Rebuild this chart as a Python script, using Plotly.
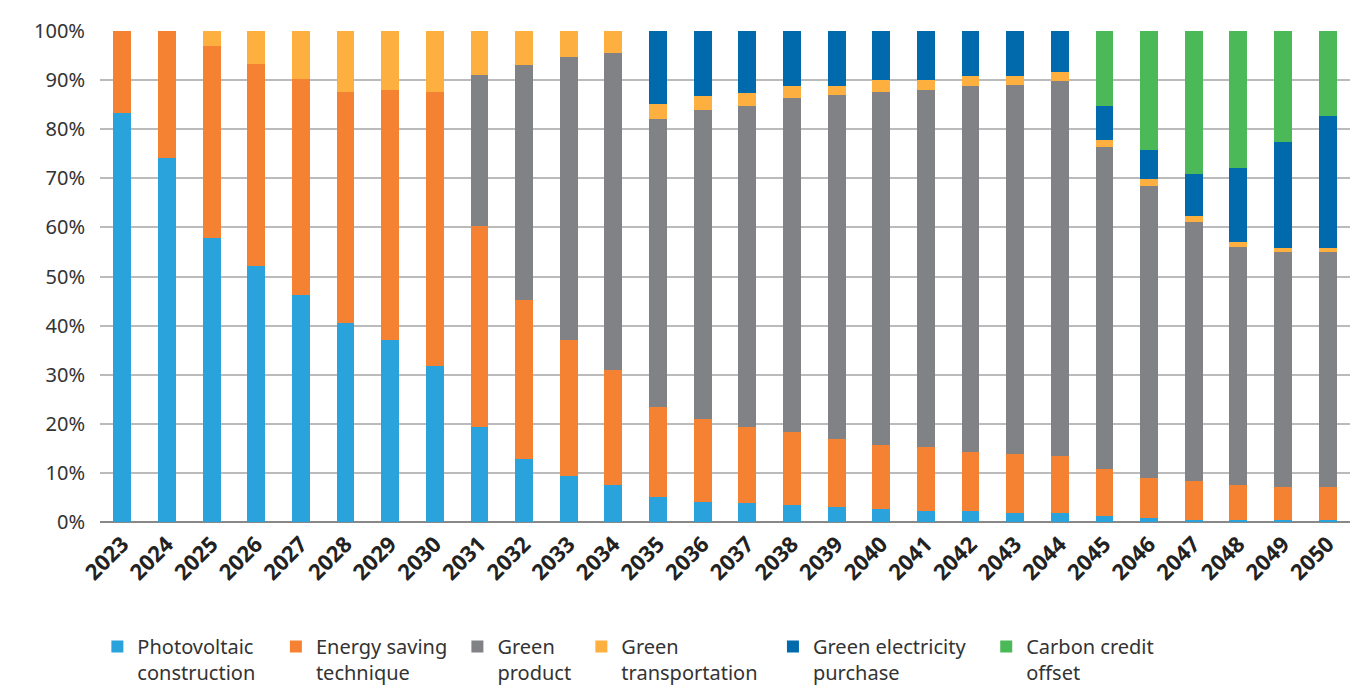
import plotly.graph_objects as go

years = [str(y) for y in range(2023, 2051)]

photovoltaic = [83.4, 74.2, 57.8, 52.1, 46.2, 40.5, 37.1, 31.7, 19.4, 12.9, 9.4, 7.5, 5.0, 4.1,
                3.8, 3.4, 3.0, 2.7, 2.3, 2.3, 1.9, 1.9, 1.3, 0.9, 0.5, 0.5, 0.5, 0.5]
energy_saving = [16.6, 25.8, 39.1, 41.2, 44.1, 47.0, 50.9, 55.8, 40.8, 32.3, 27.7, 23.5, 18.4, 16.9,
                 15.6, 14.9, 14.0, 13.0, 12.9, 12.0, 12.0, 11.6, 9.4, 8.1, 7.8, 7.0, 6.6, 6.6]
green_product = [0, 0, 0, 0, 0, 0, 0, 0, 30.9, 47.9, 57.7, 64.6, 58.6, 63.0,
                 65.4, 68.1, 69.9, 71.9, 72.8, 74.5, 75.1, 76.4, 65.7, 59.5, 52.9, 48.5, 47.8, 47.8]
green_transport = [0, 0, 3.1, 6.7, 9.7, 12.5, 12.0, 12.5, 8.9, 6.9, 5.2, 4.4, 3.2, 2.8,
                   2.5, 2.5, 2.0, 2.5, 2.1, 2.0, 1.8, 1.8, 1.3, 1.3, 1.2, 1.0, 0.9, 0.9]
green_electricity = [0, 0, 0, 0, 0, 0, 0, 0, 0, 0, 0, 0, 14.8, 13.2,
                     12.7, 11.1, 11.1, 9.9, 9.9, 9.2, 9.2, 8.3, 7.1, 5.9, 8.4, 15.0, 21.5, 26.9]
carbon_offset = [0, 0, 0, 0, 0, 0, 0, 0, 0, 0, 0, 0, 0, 0,
                 0, 0, 0, 0, 0, 0, 0, 0, 15.2, 24.3, 29.2, 28.0, 22.7, 17.3]

NB = "\u00a0"
series = [
    ("Photovoltaic<br>construction" + NB * 3, photovoltaic, "#2AA3DD"),
    ("Energy saving" + NB + "<br>technique", energy_saving, "#F58233"),
    ("Green<br>product" + NB, green_product, "#818285"),
    ("Green<br>transportation" + NB * 2, green_transport, "#FDB040"),
    ("Green electricity" + NB * 3 + "<br>purchase", green_electricity, "#006AAD"),
    ("Carbon credit<br>offset", carbon_offset, "#4BB958"),
]

fig = go.Figure()
for name, vals, color in series:
    fig.add_trace(go.Bar(x=years, y=vals, name=name, marker=dict(color=color, line=dict(width=0))))

fig.update_layout(
    barmode="stack",
    bargap=0.6,
    width=1354, height=678,
    margin=dict(l=92, r=12, t=23, b=164),
    paper_bgcolor="white", plot_bgcolor="white",
    font=dict(family="Noto Sans", color="#333333"),
    xaxis=dict(
        type="category", tickangle=-45, showgrid=False,
        tickfont=dict(size=22, color="#222222", family="Noto Sans", weight=700),
        showline=False, ticks="", automargin=False, ticklabelstandoff=4,
    ),
    yaxis=dict(
        range=[0, 100], dtick=10, ticksuffix="%",
        showgrid=True, gridcolor="#BBBBBB", gridwidth=1.5,
        zeroline=True, zerolinecolor="#888888", zerolinewidth=2,
        tickfont=dict(size=20, color="#333333"),
        ticklabelstandoff=14, automargin=False,
    ),
    legend=dict(
        orientation="h", xref="container", x=0.066, xanchor="left",
        yref="container", y=0.087, yanchor="top",
        font=dict(size=20, color="#333333"), valign="top",
        traceorder="normal", itemwidth=30,
    ),
)

fig.write_html("out.html")
